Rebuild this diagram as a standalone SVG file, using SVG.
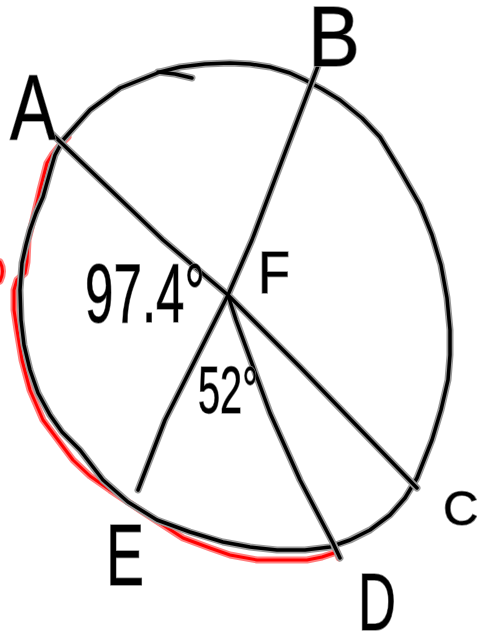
<svg xmlns="http://www.w3.org/2000/svg" xmlns:xlink="http://www.w3.org/1999/xlink" width="477" height="637" viewBox="0 0 477 637">
<style>
.halo{fill:none;stroke:#9a9a9a;stroke-width:7;stroke-linecap:round;stroke-linejoin:round}
.ink{fill:none;stroke:#000;stroke-width:3.5;stroke-linecap:round;stroke-linejoin:round}
.rhalo{fill:none;stroke:#ff8080;stroke-width:7;stroke-linecap:round;stroke-linejoin:round}
.rink{fill:none;stroke:#ff0000;stroke-width:3;stroke-linecap:round;stroke-linejoin:round}
.lbl{font-family:"Liberation Sans",Arial,sans-serif;fill:#000;stroke:#8a8a8a;stroke-width:1.5;paint-order:stroke;lengthAdjust:spacingAndGlyphs}
</style>
<defs>
<polyline id="circ" points="63,140 90,110 120,88 140,80 160,72 180,67 205,64 230,63 250,64 270,67 290,73 305,80 322,89 340,100 362,118 380,137 400,170 420,205 432,235 441,265 447,298 450,330 450,355 448,380 441,410 432,440 417,478 405,498 390,515 370,530 350,540 330,547 305,550 277,550 250,547 223,542 190,532 157,520 128,502 103,480 80,450 62,432 50,415 38,393 30,370 24,345 21,320 20,290 22,263 26,245 30,230 36,213 43,197 50,172 55,155 63,140"/>
<polyline id="tick" points="158,72 175,74 192,78"/>
<polyline id="ac" points="50,132 163,240 228,295 300,367 417,488"/>
<polyline id="be" points="318,66 286,150 252,240 228,295 165,420 138,490"/>
<polyline id="fd" points="228,295 236,320 270,413 300,480 333,543 340,558"/>
<polyline id="arc" points="68,137 60,145 52,155 47,163 40,190 33,220 28,240 27,262 25,273 17,280 14,290 14,310 17,330 22,360 30,390 43,420 58,440 73,460 90,476 110,490 140,510 160,523 183,538 210,548 230,555 257,560 307,560 322,557 337,552 339,558"/>
<path id="brk" d="M0,262 Q5,271 0,281"/>
</defs>
<g id="red-arc">
<use xlink:href="#arc" class="rhalo"/><use xlink:href="#arc" class="rink"/>
<use xlink:href="#brk" class="rhalo"/><use xlink:href="#brk" class="rink"/>
</g>
<g id="circle">
<use xlink:href="#circ" class="halo"/><use xlink:href="#tick" class="halo"/>
<use xlink:href="#circ" class="ink"/><use xlink:href="#tick" class="ink"/>
</g>
<g id="connectors">
<use xlink:href="#ac" class="halo"/><use xlink:href="#be" class="halo"/><use xlink:href="#fd" class="halo"/>
<use xlink:href="#ac" class="ink"/><use xlink:href="#be" class="ink"/><use xlink:href="#fd" class="ink"/>
</g>
<g id="labels">
<text class="lbl" x="10" y="140" font-size="92" textLength="46" lengthAdjust="spacingAndGlyphs">A</text>
<text class="lbl" x="308" y="66" font-size="85" textLength="52" lengthAdjust="spacingAndGlyphs">B</text>
<text class="lbl" x="443" y="525" font-size="49">C</text>
<text class="lbl" x="358" y="630" font-size="81" textLength="38" lengthAdjust="spacingAndGlyphs">D</text>
<text class="lbl" x="106" y="585" font-size="88" textLength="38" lengthAdjust="spacingAndGlyphs">E</text>
<text class="lbl" x="258" y="293" font-size="60" textLength="32" lengthAdjust="spacingAndGlyphs">F</text>
<text class="lbl" x="85" y="322" font-size="84" textLength="120" lengthAdjust="spacingAndGlyphs">97.4°</text>
<text class="lbl" x="198" y="413" font-size="66" textLength="60" lengthAdjust="spacingAndGlyphs">52°</text>
</g>
</svg>
